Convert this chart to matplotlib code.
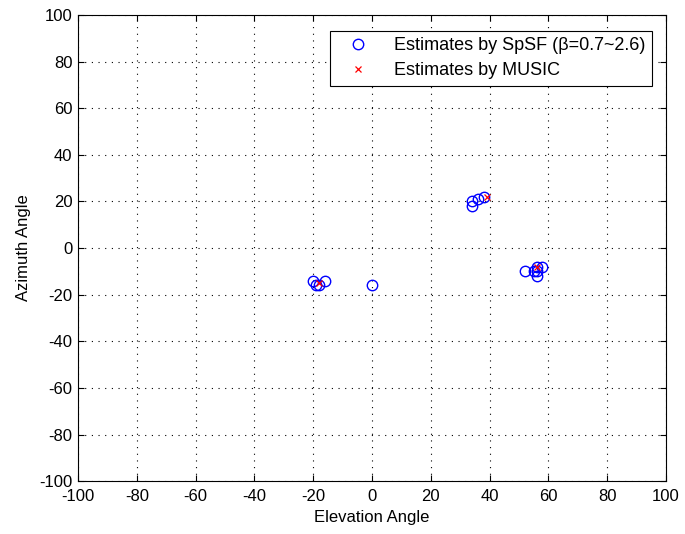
import numpy as np
import matplotlib.pyplot as plt

plt.rcParams['font.family'] = ['Liberation Sans', 'DejaVu Sans']
plt.rcParams['axes.unicode_minus'] = False

# DOA estimates (elevation, azimuth) in degrees
spsf_elev = [-20, -19, -18, -16, 0, 34, 34, 36, 38, 52, 55, 56, 56, 56, 58]
spsf_azim = [-14, -16, -16, -14, -16, 18, 20, 21, 22, -10, -10, -12, -8, -10, -8]
music_elev = [-18, 39, 56]
music_azim = [-15, 22, -8]

ticks = np.arange(-100, 101, 20)

fig = plt.figure(figsize=(6.85, 5.34), dpi=100)
ax = fig.add_axes([0.114, 0.099, 0.858, 0.873])

ax.plot(spsf_elev, spsf_azim, 'o', mfc='none', mec='#0000ff', ms=7.5, mew=1.0,
        label='Estimates by SpSF (\u03b2=0.7~2.6)')
ax.plot(music_elev, music_azim, 'x', color='#ff0000', ms=5, mew=0.9,
        label='Estimates by MUSIC')

ax.set_xlim(-100, 100)
ax.set_ylim(-100, 100)
ax.set_xticks(ticks)
ax.set_yticks(ticks)
ax.grid(True, color='black', linestyle=(0, (1, 5)), linewidth=0.8)
ax.tick_params(direction='in', top=True, right=True, length=4, labelsize=12)
ax.tick_params(axis='x', pad=6)
ax.tick_params(axis='y', pad=4)
for s in ax.spines.values():
    s.set_linewidth(0.8)

ax.set_xlabel('Elevation Angle', fontsize=12, labelpad=4)
ax.set_ylabel('Azimuth Angle', fontsize=12, labelpad=6)

leg = ax.legend(loc='upper right', bbox_to_anchor=(0.976, 0.966),
                borderaxespad=0, fontsize=13, fancybox=False, framealpha=1,
                edgecolor='black', borderpad=0.35, handlelength=2.4,
                handletextpad=0.8, labelspacing=0.45)
leg.get_frame().set_linewidth(0.8)

fig.savefig('out.png', dpi=100)
